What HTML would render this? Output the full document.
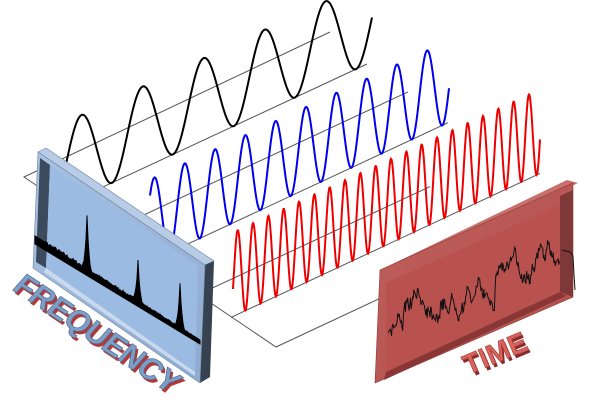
<!DOCTYPE html>
<html><head><meta charset="utf-8"><style>
html,body{margin:0;padding:0;background:#fff;}
svg{display:block;}
</style></head><body>
<svg id="s" width="600" height="408" viewBox="0 0 600 408" xmlns="http://www.w3.org/2000/svg">
<defs>
<linearGradient id="bf" x1="0" y1="0" x2="1" y2="1"><stop offset="0" stop-color="#a9c2e2"/><stop offset="1" stop-color="#8fabd0"/></linearGradient>
<linearGradient id="rf" x1="0" y1="0" x2="1" y2="1"><stop offset="0" stop-color="#c0605c"/><stop offset="1" stop-color="#b04e4b"/></linearGradient>
</defs>
<g id="lines" stroke="#555" stroke-width="1" fill="none">
<polyline points="330,32 24,177 276,347 385,296"/>
<line x1="65" y1="204.7" x2="367" y2="64"/>
<line x1="106" y1="232.6" x2="408" y2="91.9"/>
<line x1="150" y1="261.6" x2="448" y2="122.7"/>
<line x1="198" y1="294.7" x2="430" y2="186.6"/>
<line x1="231" y1="317.4" x2="540" y2="173.4"/>
</g>
<path id="wb" fill="none" stroke="#000" stroke-width="2"/>
<path id="wu" fill="none" stroke="#0000ee" stroke-width="2"/>
<path id="wr" fill="none" stroke="#ee0000" stroke-width="2"/>

<!-- blue panel -->
<polygon points="38,152 46,148 214,261 205,265" fill="#b8cce6" stroke="#6d86a6" stroke-width="0.6"/>
<polygon points="205,265 214,261 210,377 200,383" fill="#36424f"/>
<polygon points="38,152 205,265 200,383 33,268" fill="url(#bf)" stroke="#6d86a6" stroke-width="0.6"/>
<polygon points="40,158 50,165 46,268 36,262" fill="#3b4a5c"/>
<polygon points="50,165 198,266 195,372 46,268" fill="#9cbbe2"/>
<polygon points="46,268 195,372 195,376 44,272" fill="#c9daee"/>
<path id="spec" fill="#000" stroke="#000" stroke-width="1"/>

<!-- red panel -->
<polygon points="380,270 567,180 578,183 386,274" fill="#c8716c"/>
<polygon points="380,270 573,183 573,297 375,383" fill="url(#rf)" stroke="#8d3a38" stroke-width="0.6"/>
<polygon points="386,283 560,205 560,290 386,372" fill="#b9524f"/>
<polygon points="560,196 573,190 573,297 560,292" fill="#7d3837"/>
<polygon points="386,372 560,292 566,296 384,380" fill="#8a3634"/>
<path id="noise" fill="none" stroke="#111" stroke-width="1"/>

<text x="0" y="0" transform="translate(13,292) rotate(33.5) skewX(-8)" font-family="Liberation Sans, sans-serif" font-weight="bold" font-size="31" fill="#b03a3a" letter-spacing="-0.5">FREQUENCY</text>
<text x="0" y="0" transform="translate(11,289) rotate(33.5) skewX(-8)" font-family="Liberation Sans, sans-serif" font-weight="bold" font-size="31" fill="#7d9ec6" stroke="#4f6d93" stroke-width="0.7" letter-spacing="-0.5">FREQUENCY</text>
<text x="0" y="0" transform="translate(470,378) rotate(-23)" font-family="Liberation Sans, sans-serif" font-weight="bold" font-size="28" fill="#8a2a28">TIME</text>
<text x="0" y="0" transform="translate(468,375) rotate(-23)" font-family="Liberation Sans, sans-serif" font-weight="bold" font-size="28" fill="#d8625c" stroke="#a83c38" stroke-width="0.6">TIME</text>
</svg>
<script>
function wave(x0,x1,c,pk,per,A){var d="";for(var x=x0;x<=x1;x+=0.5){var y=c-0.466*x-A-A*Math.cos(2*Math.PI*(x-pk)/per);d+=(d?"L":"M")+x.toFixed(1)+","+y.toFixed(1);}return d;}
document.getElementById("wb").setAttribute("d",wave(64,372,235,81.5,61,41));
document.getElementById("wu").setAttribute("d",wave(150,449,331.5,215,30.3,41));
document.getElementById("wr").setAttribute("d",wave(233,540,425,237.7,15.33,42));
var s=7;function r(){s=(s*16807)%2147483647;return s/2147483647;}
var pts=[],x,y;
for(x=35;x<=200;x+=1){var base=240+0.62*(x-35);var h=2+r()*4*(1-(x-35)/200);
function sp(c,hh){var d=Math.abs(x-c);return d<5?hh*(1-d/5)*(1-d/5)+hh*0.15*(d<1?1:0):0;}
h+=sp(87,46)+sp(138,36)+sp(180,38);
if(x<45)h=4;pts.push([x,base-h]);}
var d="M35,244";pts.forEach(function(p){d+="L"+p[0]+","+p[1].toFixed(1);});
d+="L200,344L35,244Z";document.getElementById("spec").setAttribute("d",d);
// noise
var T=[[388,322],[405,312],[420,300],[440,305],[460,296],[480,292],[494,292],[497,262],[520,268],[530,268],[534,250],[556,258],[560,258]];
function tr(x){for(var i=0;i<T.length-1;i++){if(x<=T[i+1][0]){var a=T[i],b=T[i+1];return a[1]+(b[1]-a[1])*(x-a[0])/(b[0]-a[0]);}}return T[T.length-1][1];}
d="";var v=0;
for(x=388;x<=560;x+=0.7){v+=(r()-0.5)*7;v*=0.85;
y=tr(x)+v*2.2+(r()-0.5)*9;d+=(d?"L":"M")+x.toFixed(1)+","+y.toFixed(1);}
d+="M562,250L570,252L573,256L574,275L575,290";
document.getElementById("noise").setAttribute("d",d);
</script>
</body></html>
